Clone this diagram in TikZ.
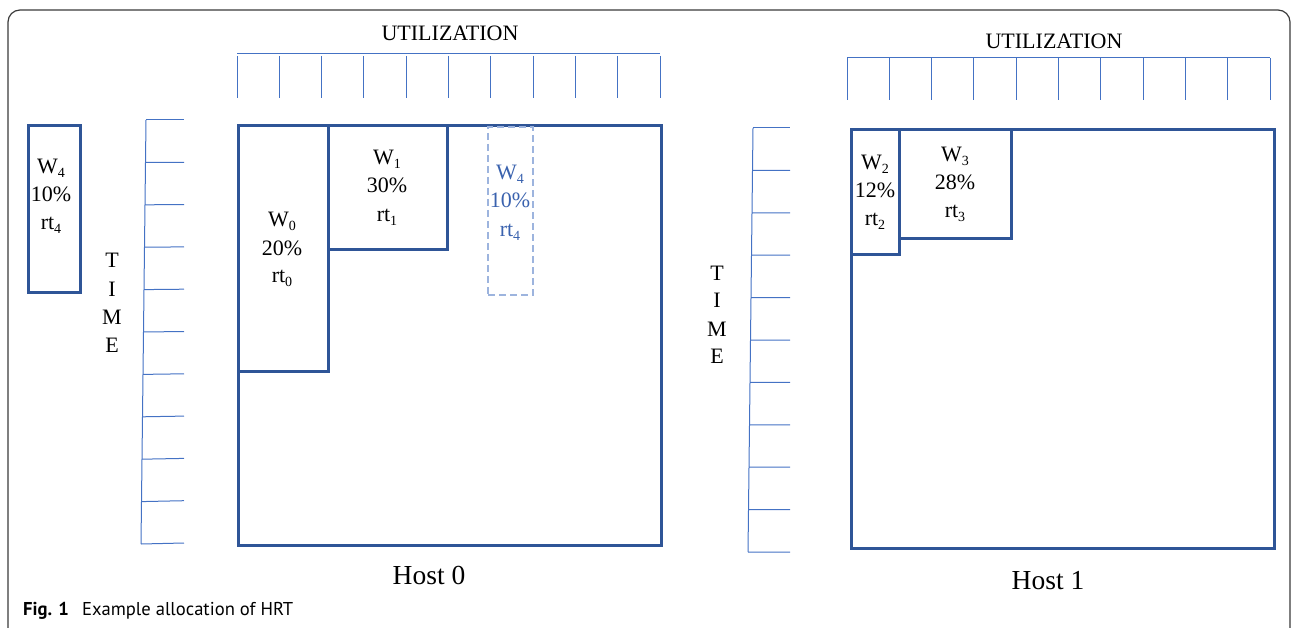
\documentclass[tikz,border=0pt]{standalone}
\usepackage{fontspec}
\usetikzlibrary{calc}
\setmainfont{Liberation Serif}
\newfontfamily\capfont{PT Sans}
\definecolor{boxblue}{HTML}{2F5597}
\definecolor{tickblue}{HTML}{4472C4}
\definecolor{dashblue}{HTML}{9DB4DE}
\definecolor{dashtext}{HTML}{3A62AE}
\definecolor{framegray}{HTML}{3A3A3A}
\newcommand\sbs[1]{\raisebox{-0.18em}{\fontsize{14}{14}\selectfont #1}}
\begin{document}
\begin{tikzpicture}[x=1pt,y=-1pt,
  hostbox/.style={draw=boxblue, line width=2.6pt, inner sep=0pt, anchor=north west},
  jobbox/.style={draw=boxblue, line width=2.6pt, inner sep=0pt, anchor=north west},
  ghostbox/.style={draw=dashblue, line width=2pt, dash pattern=on 7pt off 4pt, inner sep=0pt, anchor=north west},
  lbl/.style={anchor=base, inner sep=0pt, font=\fontsize{22}{28}\selectfont},
  axislbl/.style={anchor=base, inner sep=0pt, font=\fontsize{22}{26}\selectfont},
  hostlbl/.style={anchor=base, inner sep=0pt, font=\fontsize{27.5}{30}\selectfont},
  tick/.style={draw=tickblue, line width=1pt}]
\useasboundingbox (0,0) rectangle (1292,628);
% outer frame
\draw[framegray, line width=1.2pt, rounded corners=12pt] (8,640) -- (8,10) -- (1290,10) -- (1290,640);

% ---------------- Host 0 ----------------
\node[axislbl] (util0) at (450,41) {UTILIZATION};
\draw[tick] (237,54) -- (660,54);
\foreach \i in {0,...,10} \draw[tick] ({237+\i*42.3},56) -- ({237+\i*42.3},98);
\coordinate (t0top) at (146,120);
\coordinate (t0bot) at (141,544);
\draw[tick] (t0top) -- (t0bot);
\foreach \i in {0,...,10} \draw[tick] ($(t0top)!{\i/10}!(t0bot)$) -- (184,{120+\i*42.3});
\node[axislbl] (time0T) at (112,268) {T};
\node[axislbl] (time0I) at (112,296) {I};
\node[axislbl] (time0M) at (112,324) {M};
\node[axislbl] (time0E) at (112,352) {E};

\node[hostbox, minimum width=423pt, minimum height=420pt] (host0) at (237,124) {};
\node[jobbox, minimum width=90pt, minimum height=246pt] (w0) at (237,124) {};
\node[jobbox, minimum width=119pt, minimum height=124pt] (w1) at (327,124) {};
\node[ghostbox, minimum width=45pt, minimum height=168pt] (w4g) at (487,126) {};
\node[jobbox, minimum width=52pt, minimum height=167pt] (w4) at (27,124) {};

\node[lbl] (w0a) at (282,227) {W\sbs{0}};
\node[lbl] (w0b) at (282,255) {20\%};
\node[lbl] (w0c) at (282,283) {rt\sbs{0}};
\node[lbl] (w1a) at (387,165) {W\sbs{1}};
\node[lbl] (w1b) at (387,193) {30\%};
\node[lbl] (w1c) at (387,222) {rt\sbs{1}};
\node[lbl,text=dashtext] (w4ga) at (510,180) {W\sbs{4}};
\node[lbl,text=dashtext] (w4gb) at (510,208) {10\%};
\node[lbl,text=dashtext] (w4gc) at (510,237) {rt\sbs{4}};
\node[lbl] (w4a) at (51,174) {W\sbs{4}};
\node[lbl] (w4b) at (51,202) {10\%};
\node[lbl] (w4c) at (51,230) {rt\sbs{4}};

\node[hostlbl] (h0lbl) at (429,584) {Host 0};

% ---------------- Host 1 ----------------
\node[axislbl] (util1) at (1054,49) {UTILIZATION};
\draw[tick] (847,58) -- (1270,58);
\foreach \i in {0,...,10} \draw[tick] ({847+\i*42.3},58) -- ({847+\i*42.3},100);
\coordinate (t1top) at (753,128);
\coordinate (t1bot) at (748,552);
\draw[tick] (t1top) -- (t1bot);
\foreach \i in {0,...,10} \draw[tick] ($(t1top)!{\i/10}!(t1bot)$) -- (790,{128+\i*42.4});
\node[axislbl] (time1T) at (717,280) {T};
\node[axislbl] (time1I) at (717,307) {I};
\node[axislbl] (time1M) at (717,336) {M};
\node[axislbl] (time1E) at (717,363) {E};

\node[hostbox, minimum width=423pt, minimum height=419pt] (host1) at (850,128) {};
\node[jobbox, minimum width=48pt, minimum height=125pt] (w2) at (850,128) {};
\node[jobbox, minimum width=112pt, minimum height=109pt] (w3) at (898,128) {};

\node[lbl] (w2a) at (875,170) {W\sbs{2}};
\node[lbl] (w2b) at (875,198) {12\%};
\node[lbl] (w2c) at (875,226) {rt\sbs{2}};
\node[lbl] (w3a) at (955,162) {W\sbs{3}};
\node[lbl] (w3b) at (955,190) {28\%};
\node[lbl] (w3c) at (955,218) {rt\sbs{3}};

\node[hostlbl] (h1lbl) at (1048,589) {Host 1};

% caption
\node[anchor=base west, inner sep=0pt, font=\capfont\fontsize{18.6}{20}\selectfont] (cap) at (23,615) {\textbf{Fig. 1}\hspace{0.7em}Example allocation of HRT};
\end{tikzpicture}
\end{document}
